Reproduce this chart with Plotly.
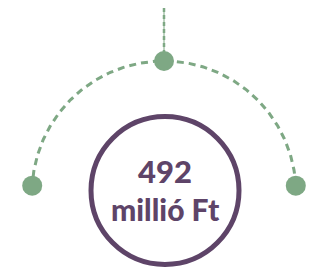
import numpy as np
import plotly.graph_objects as go

# content
value_label = ["492", "millió Ft"]
node_angles_deg = [180 - 3.2, 90, 3.2]  # positions of the three nodes on the dashed arc

PURPLE = "#5e4468"
GREEN = "#7ea884"
W, H = 310, 269

fig = go.Figure()

# dashed arc
cx, cy, R = 164, 193, 132
a0, a1 = np.radians(node_angles_deg[2]), np.radians(node_angles_deg[0])
t = np.linspace(a0, a1, 200)
fig.add_trace(go.Scatter(x=cx + R * np.cos(t), y=cy - R * np.sin(t), mode="lines",
                         line=dict(color=GREEN, width=3, dash="7px,5px"),
                         hoverinfo="skip", showlegend=False))

# vertical connector
fig.add_trace(go.Scatter(x=[cx, cx], y=[8, 52], mode="lines",
                         line=dict(color=GREEN, width=1), hoverinfo="skip", showlegend=False))
fig.add_trace(go.Scatter(x=[cx, cx], y=[8, 52], mode="lines",
                         line=dict(color=GREEN, width=2.5, dash="4px,3px"), hoverinfo="skip", showlegend=False))

# nodes
ang = np.radians(node_angles_deg)
fig.add_trace(go.Scatter(x=cx + R * np.cos(ang), y=cy - R * np.sin(ang), mode="markers",
                         marker=dict(color=GREEN, size=20, line=dict(width=0)),
                         hoverinfo="skip", showlegend=False))

# big circle
fig.add_shape(type="circle", xref="x", yref="y", x0=165 - 74, x1=165 + 74, y0=190.5 - 74, y1=190.5 + 74,
              line=dict(color=PURPLE, width=5), fillcolor="rgba(0,0,0,0)")

fig.add_annotation(x=165, y=171, xref="x", yref="y", text=value_label[0], showarrow=False,
                   font=dict(family="Lato", size=31, color=PURPLE, weight=900))
fig.add_annotation(x=165, y=209, xref="x", yref="y", text=value_label[1], showarrow=False,
                   font=dict(family="Lato", size=30, color=PURPLE, weight=900))

fig.update_layout(width=W, height=H, margin=dict(l=0, r=0, t=0, b=0),
                  paper_bgcolor="white", plot_bgcolor="white",
                  xaxis=dict(range=[0, W], visible=False, fixedrange=True),
                  yaxis=dict(range=[H, 0], visible=False, fixedrange=True))
fig.write_html("out.html", config={"displayModeBar": False})

# remove the default page margin so the figure sits at the window origin
with open("out.html", encoding="utf-8") as f:
    html = f.read()
html = html.replace("<head>", "<head><style>html,body{margin:0;padding:0;overflow:hidden}</style>", 1)
with open("out.html", "w", encoding="utf-8") as f:
    f.write(html)
